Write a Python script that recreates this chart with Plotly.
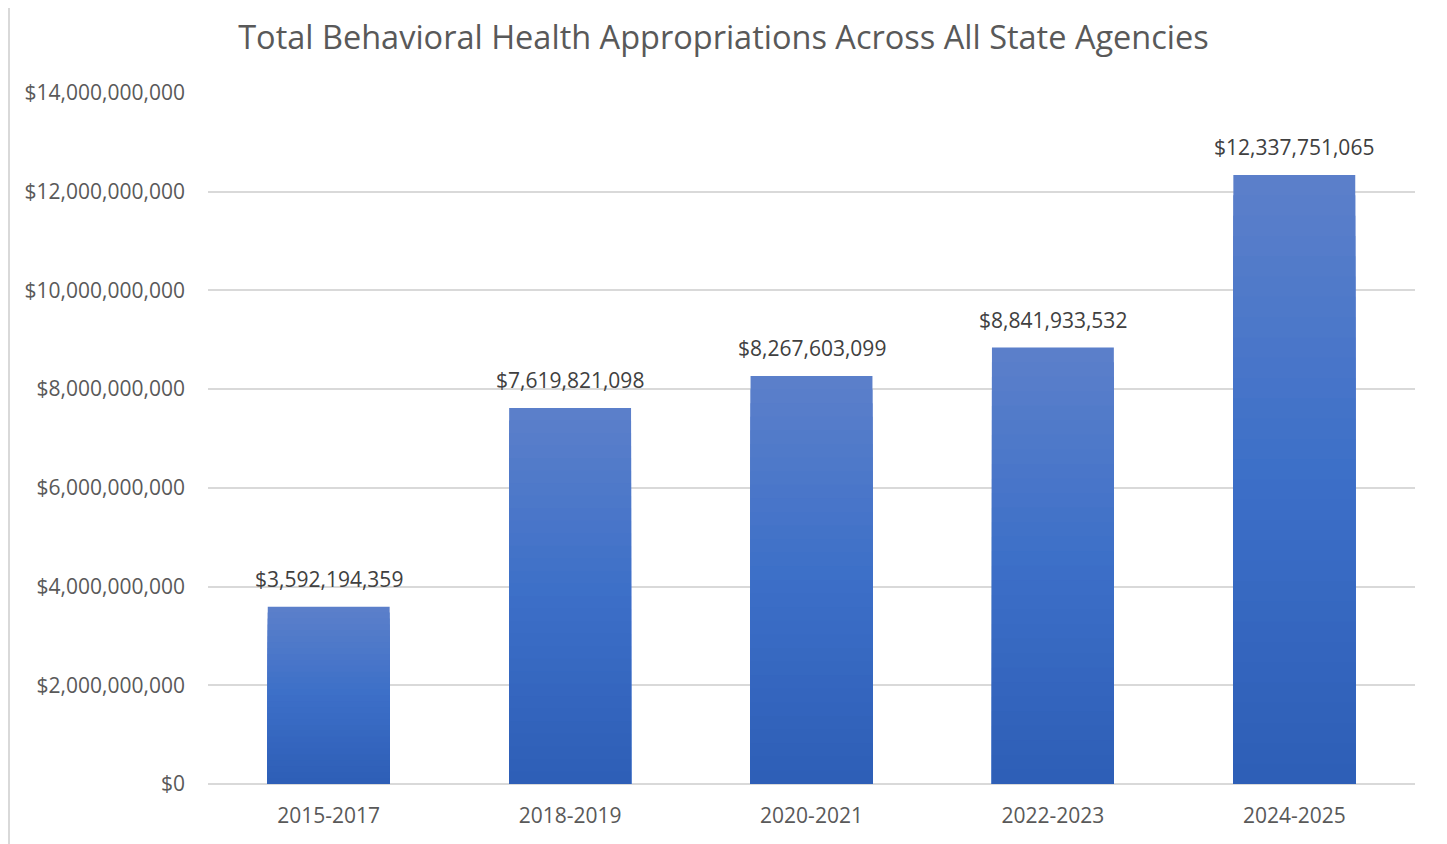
import plotly.graph_objects as go

categories = ["2015-2017", "2018-2019", "2020-2021", "2022-2023", "2024-2025"]
values = [3592194359, 7619821098, 8267603099, 8841933532, 12337751065]
title_text = "Total Behavioral Health Appropriations Across All State Agencies"

labels = ["${:,}".format(v) for v in values]

# vertical gradient of the bar fill (bottom -> middle -> top)
grad_stops = [(0.0, (46, 94, 182)), (0.5, (60, 111, 200)), (1.0, (92, 128, 202))]


def grad_color(f):
    for (f0, c0), (f1, c1) in zip(grad_stops[:-1], grad_stops[1:]):
        if f0 <= f <= f1:
            t = (f - f0) / (f1 - f0)
            return "rgb({},{},{})".format(*[round(a + (b - a) * t) for a, b in zip(c0, c1)])
    return "rgb({},{},{})".format(*grad_stops[-1][1])


N_BANDS = 30
fig = go.Figure()
for k in range(N_BANDS, 0, -1):
    frac = k / N_BANDS
    fig.add_trace(go.Bar(
        x=categories,
        y=[v * frac for v in values],
        marker=dict(color=grad_color((k - 0.5) / N_BANDS), line=dict(width=0)),
        hoverinfo="skip" if k != N_BANDS else "x+y",
        showlegend=False,
    ))

for c, v, t in zip(categories, values, labels):
    fig.add_annotation(x=c, y=v, text=t, showarrow=False, xanchor="center", yanchor="bottom",
                       yshift=12, font=dict(family="Open Sans", size=21, color="#404040"))

W, H = 1447, 844
L, T = 200, 85
PW = 1207

fig.update_layout(
    width=W, height=H,
    margin=dict(l=L, r=W - L - PW, t=T, b=68),
    paper_bgcolor="white",
    plot_bgcolor="white",
    barmode="overlay",
    bargap=0.495,
    showlegend=False,
    title=dict(text=title_text, x=715.5 / W, xanchor="center", y=1 - 30 / H, yanchor="middle",
               font=dict(family="Open Sans", size=32.5, color="#595959")),
    font=dict(family="Open Sans", color="#595959"),
    xaxis=dict(showgrid=False, showline=False, ticks="", ticklabelstandoff=17,
               tickfont=dict(size=21, color="#595959")),
    yaxis=dict(range=[0, 14e9], dtick=2e9, tickprefix="$", tickformat=",",
               showgrid=True, gridcolor="#D9D9D9", gridwidth=1.5,
               zeroline=True, zerolinecolor="#D9D9D9", zerolinewidth=2,
               showline=False, ticks="", ticklabelstandoff=22,
               tickfont=dict(size=21, color="#595959")),
    shapes=[
        dict(type="line", xref="paper", yref="paper", x0=(1 - L) / PW, x1=(1 - L) / PW,
             y0=-0.2, y1=1.2, line=dict(color="#D9D9D9", width=2)),
        dict(type="line", xref="paper", yref="paper", x0=(1434 - L) / PW, x1=(1434 - L) / PW,
             y0=-0.2, y1=1.2, line=dict(color="#D9D9D9", width=2)),
    ],
)

fig.write_html("out.html")
